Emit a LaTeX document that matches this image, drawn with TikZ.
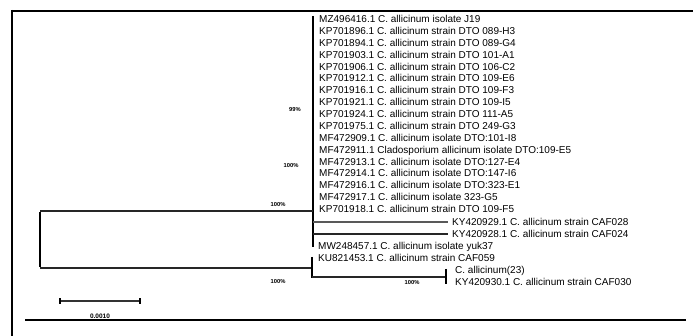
\documentclass[tikz,border=0pt]{standalone}
\usepackage{fontspec}
\setmainfont{Liberation Sans}
\begin{document}
\begin{tikzpicture}[x=1pt,y=-1pt,
  leaf/.style={anchor=west,inner sep=0pt,font=\fontsize{10}{12}\selectfont,text height=7.2pt,text depth=0pt},
  boot/.style={inner sep=0pt,font=\fontsize{5.8}{6}\selectfont\bfseries},
  branch/.style={line width=1.3pt,black!85},
  bar/.style={line width=2.6pt,black},
  frameline/.style={line width=1.1pt,black}]
\useasboundingbox (0,0) rectangle (693,336);
% frame
\coordinate (ftl) at (12,10);
\coordinate (fbl) at (12,336);
\coordinate (ft1) at (12,11);
\coordinate (ft2) at (25,11);
\coordinate (ft3) at (685,11);
\coordinate (ft4) at (693,11);
\coordinate (fb1) at (25,320);
\coordinate (fb2) at (686,320);
\draw[line width=1.5pt] (ftl) -- (fbl);
\draw[frameline] (ft1) -- (ft3);
\draw[line width=2.6pt] (ft1) -- (ft2);
\draw[line width=2.6pt] (ft3) -- (ft4);
\draw[frameline] (fb1) -- (fb2);
% leaves of upper clade
\node[leaf] (l0)  at (319,19)     {MZ496416.1 C. allicinum isolate J19};
\node[leaf] (l1)  at (319,30.9)   {KP701896.1 C. allicinum strain DTO 089-H3};
\node[leaf] (l2)  at (319,42.75)  {KP701894.1 C. allicinum strain DTO 089-G4};
\node[leaf] (l3)  at (319,54.6)   {KP701903.1 C. allicinum strain DTO 101-A1};
\node[leaf] (l4)  at (319,66.5)   {KP701906.1 C. allicinum strain DTO 106-C2};
\node[leaf] (l5)  at (319,78.4)   {KP701912.1 C. allicinum strain DTO 109-E6};
\node[leaf] (l6)  at (319,90.25)  {KP701916.1 C. allicinum strain DTO 109-F3};
\node[leaf] (l7)  at (319,102.1)  {KP701921.1 C. allicinum strain DTO 109-I5};
\node[leaf] (l8)  at (319,114)    {KP701924.1 C. allicinum strain DTO 111-A5};
\node[leaf] (l9)  at (319,125.9)  {KP701975.1 C. allicinum strain DTO 249-G3};
\node[leaf] (l10) at (319,137.75) {MF472909.1 C. allicinum isolate DTO:101-I8};
\node[leaf] (l11) at (319,149.6)  {MF472911.1 Cladosporium allicinum isolate DTO:109-E5};
\node[leaf] (l12) at (319,161.5)  {MF472913.1 C. allicinum isolate DTO:127-E4};
\node[leaf] (l13) at (319,173.4)  {MF472914.1 C. allicinum isolate DTO:147-I6};
\node[leaf] (l14) at (319,185.25) {MF472916.1 C. allicinum isolate DTO:323-E1};
\node[leaf] (l15) at (319,197.1)  {MF472917.1 C. allicinum isolate 323-G5};
\node[leaf] (l16) at (319,209)    {KP701918.1 C. allicinum strain DTO 109-F5};
\node[leaf] (l17) at (452,222)    {KY420929.1 C. allicinum strain CAF028};
\node[leaf] (l18) at (452,234)    {KY420928.1 C. allicinum strain CAF024};
\node[leaf] (l19) at (318,246)    {MW248457.1 C. allicinum isolate yuk37};
% lower clade leaves
\node[leaf] (l20) at (318,258)    {KU821453.1 C. allicinum strain CAF059};
\node[leaf] (l21) at (455,270)    {C. allicinum(23)};
\node[leaf] (l22) at (455,282)    {KY420930.1 C. allicinum strain CAF030};
% upper clade
\coordinate (ut) at (313,16);
\coordinate (um) at (313,212);
\coordinate (ub) at (313,247);
\coordinate (uN) at (313,211);
\coordinate (u17) at (313,222);
\coordinate (u18) at (313,234);
\coordinate (e17) at (448,222);
\coordinate (e18) at (448,234);
\draw[bar] (ut) -- (um);
\draw[line width=1.2pt] (um) -- (ub);
\draw[branch,black!65,line width=1.6pt] (u17) -- (e17);
\draw[branch] (u18) -- (e18);
% root
\coordinate (rt) at (40,211);
\coordinate (rb) at (40,268);
\draw[bar] ([yshift=-0.6pt]rt) -- ([yshift=0.6pt]rb);
\draw[branch] (rt) -- (uN);
% lower clade
\coordinate (lN) at (312,268);
\coordinate (lt) at (312,257);
\coordinate (lb) at (312,278);
\coordinate (lc) at (312,277);
\coordinate (sN) at (446,277);
\coordinate (st) at (446,269);
\coordinate (sb) at (446,284);
\draw[branch] (rb) -- (lN);
\draw[line width=2pt] (lt) -- (lb);
\draw[branch] (lc) -- (sN);
\draw[bar] (st) -- (sb);
% bootstrap values
\node[boot] (b1) at (295,110) {99\%};
\node[boot] (b2) at (291,166) {100\%};
\node[boot] (b3) at (278,205) {100\%};
\node[boot] (b4) at (278,282) {100\%};
\node[boot] (b5) at (412,283) {100\%};
% scale bar
\coordinate (s1) at (60,301);
\coordinate (s2) at (140,301);
\draw[line width=1.3pt,black!80] (s1) -- (s2);
\draw[line width=2pt] ([yshift=-3pt]s1) -- ([yshift=3pt]s1);
\draw[line width=2pt] ([yshift=-3pt]s2) -- ([yshift=3pt]s2);
\node[boot,font=\fontsize{6.5}{7}\selectfont\bfseries] (sl) at (100,316) {0.0010};
\end{tikzpicture}
\end{document}
